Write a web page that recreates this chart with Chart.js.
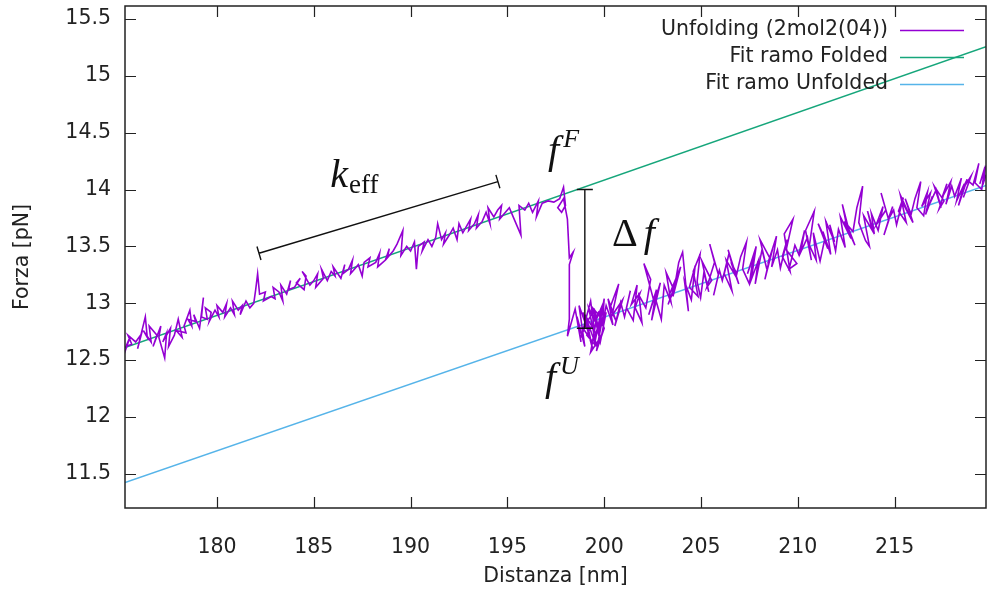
<!DOCTYPE html>
<html lang="it">
<head>
  <meta charset="UTF-8" />
  <title>Unfolding 2mol2(04)</title>
  <script src="https://cdn.jsdelivr.net/npm/chart.js"></script>
  <style>
    body {
      margin: 0;
      background: #fff;
    }
    #wrap {
      width: 987px;
      height: 592px;
    }
  </style>
</head>
<body>
  <div id="wrap"><canvas id="forceChart" width="987" height="592"></canvas></div>

  <script>
    // trace of the unfolding run: distance [nm] and force [pN]
    // folded branch, rip, relaxation cluster, unfolded branch
    const distanza = [
      175.2, 175.5, 175.3, 175.6, 175.4, 175.8, 176.1, 175.9, 176.3, 176.4,
      176.2, 176.6, 176.5, 176.9, 176.7, 177.1, 177.0, 177.3, 177.4, 177.2,
      177.6, 177.5, 177.8, 178.0, 178.2, 177.9, 178.4, 178.3, 178.6, 178.7,
      178.5, 178.9, 178.8, 179.1, 179.3, 179.2, 179.5, 179.4, 179.7, 179.6,
      179.9, 180.1, 180.0, 180.3, 180.5, 180.4, 180.7, 180.9, 180.8, 181.1,
      181.3, 181.2, 181.5, 181.7, 181.9, 182.0, 182.1, 182.2, 182.5, 182.4,
      182.8, 183.0, 182.9, 183.2, 183.4, 183.3, 183.6, 183.8, 183.7, 184.0,
      184.3, 184.1, 184.5, 184.6, 184.4, 184.8, 185.0, 185.2, 185.1, 185.5,
      185.4, 185.7, 185.9, 186.1, 186.0, 186.4, 186.6, 186.5, 186.8, 187.0,
      186.9, 187.3, 187.5, 187.6, 187.9, 187.8, 188.2, 188.4, 188.3, 188.7,
      188.9, 188.8, 189.1, 189.3, 189.6, 189.5, 189.8, 190.0, 190.2, 190.3,
      190.4, 190.7, 190.6, 190.9, 191.1, 191.3, 191.4, 191.6, 191.8, 191.7,
      192.0, 192.2, 192.4, 192.5, 192.7, 192.9, 193.1, 193.0, 193.3, 193.5,
      193.4, 193.7, 193.9, 194.1, 194.0, 194.3, 194.5, 194.7, 194.6, 194.9,
      195.1, 195.3, 195.7, 195.6, 195.9, 196.1, 196.3, 196.6, 196.5, 196.8,
      197.1, 197.4, 197.7, 197.9, 198.0, 197.8, 197.6, 197.9, 198.1, 198.2,
      198.4, 198.2, 198.2, 198.1,
      198.5, 198.8, 198.6, 199.0, 198.7, 199.2, 198.9, 199.4, 199.1, 198.8,
      199.3, 199.5, 199.0, 199.6, 199.2, 199.7, 199.4, 198.9, 199.5, 199.8,
      199.3, 199.6, 199.9, 199.5, 199.1, 199.7, 200.0, 199.6, 199.9, 199.4,
      199.8, 200.1, 199.7, 200.0, 199.9,
      200.1, 200.45, 200.2, 200.6, 200.3, 200.75, 200.4, 200.95, 200.55, 200.85,
      201.05, 201.35, 201.15, 201.5, 201.7, 201.4, 201.85, 201.6, 201.95, 201.8,
      202.15, 202.4, 202.05, 202.55, 202.3, 202.7, 202.45, 202.9, 202.65, 202.95,
      203.1, 203.45, 203.2, 203.6, 203.3, 203.75, 203.4, 203.95, 203.55, 203.85,
      204.05, 204.35, 204.15, 204.5, 204.7, 204.4, 204.85, 204.6, 204.95, 204.8, 204.98,
      205.15, 205.4, 205.05, 205.55, 205.3, 205.7, 205.45, 205.9, 205.65, 205.95,
      206.1, 206.45, 206.2, 206.6, 206.3, 206.75, 206.4, 206.95, 206.55, 206.85,
      207.05, 207.35, 207.15, 207.5, 207.7, 207.4, 207.85, 207.6, 207.95, 207.8,
      208.15, 208.4, 208.05, 208.55, 208.3, 208.7, 208.45, 208.9, 208.65, 208.95,
      209.1, 209.45, 209.2, 209.6, 209.3, 209.75, 209.4, 209.95, 209.55, 209.85,
      210.05, 210.35, 210.15, 210.5, 210.7, 210.4, 210.85, 210.6, 210.95, 210.8,
      211.15, 211.4, 211.05, 211.55, 211.3, 211.7, 211.45, 211.9, 211.65, 211.95,
      212.1, 212.45, 212.2, 212.6, 212.3, 212.75, 212.4, 212.95, 212.55, 212.85,
      213.05, 213.35, 213.15, 213.5, 213.7, 213.4, 213.85, 213.6, 213.95, 213.8,
      214.15, 214.4, 214.05, 214.55, 214.3, 214.7, 214.45, 214.9, 214.65, 214.95,
      215.1, 215.45, 215.2, 215.6, 215.3, 215.75, 215.4, 215.95, 215.55, 215.85,
      216.05, 216.35, 216.15, 216.5, 216.7, 216.4, 216.85, 216.6, 216.95, 216.8,
      217.15, 217.4, 217.05, 217.55, 217.3, 217.7, 217.45, 217.9, 217.65, 217.95,
      218.1, 218.45, 218.2, 218.6, 218.3, 218.75, 218.4, 218.95, 218.55, 218.85,
      219.05, 219.35, 219.15, 219.5, 219.65, 219.4, 219.7, 219.55, 219.72
    ];
    const forza = [
      12.55, 12.70, 12.62, 12.64, 12.72, 12.66, 12.73, 12.60, 12.88, 12.70,
      12.76, 12.66, 12.80, 12.72, 12.62, 12.80, 12.70, 12.52, 12.74, 12.66,
      12.78, 12.62, 12.72, 12.86, 12.70, 12.76, 12.74, 12.80, 12.94, 12.80,
      12.86, 12.84, 12.90, 12.78, 13.05, 12.88, 12.86, 12.96, 12.92, 12.84,
      12.94, 12.88, 12.98, 12.92, 13.00, 12.88, 12.96, 12.90, 13.02, 12.94,
      12.98, 12.90, 13.02, 12.96, 13.00, 13.12, 13.26, 13.08, 13.10, 13.02,
      13.06, 13.04, 13.14, 13.10, 13.02, 13.16, 13.08, 13.20, 13.12, 13.14,
      13.22, 13.18, 13.12, 13.24, 13.28, 13.16, 13.20, 13.26, 13.14, 13.22,
      13.30, 13.20, 13.28, 13.24, 13.32, 13.22, 13.34, 13.26, 13.30, 13.38,
      13.26, 13.34, 13.24, 13.36, 13.40, 13.32, 13.36, 13.44, 13.32, 13.38,
      13.48, 13.40, 13.46, 13.52, 13.64, 13.42, 13.50, 13.46, 13.54, 13.30,
      13.50, 13.54, 13.46, 13.56, 13.50, 13.58, 13.70, 13.56, 13.62, 13.52,
      13.60, 13.66, 13.56, 13.70, 13.62, 13.68, 13.74, 13.64, 13.70, 13.78,
      13.66, 13.72, 13.80, 13.70, 13.84, 13.76, 13.82, 13.86, 13.74, 13.80,
      13.84, 13.76, 13.60, 13.86, 13.82, 13.88, 13.80, 13.90, 13.76, 13.88,
      13.90, 13.89, 13.92, 14.02, 13.86, 13.80, 13.84, 13.92, 13.74, 13.40,
      13.45, 13.34, 12.86, 12.71,
      12.95, 12.66, 12.88, 12.62, 12.98, 12.74, 12.92, 12.60, 12.84, 12.70,
      13.02, 12.76, 12.90, 12.62, 12.96, 12.80, 12.66, 12.78, 12.94, 12.70,
      12.57, 12.86, 12.98, 12.64, 12.72, 12.92, 12.78, 12.58, 12.86, 12.96,
      12.66, 12.92, 12.74, 13.04, 12.80,
      12.98, 12.81, 13.04, 12.85, 12.96, 13.17, 12.89, 13.03, 12.80, 13.01,
      12.88, 13.11, 12.96, 12.85, 13.16, 12.99, 13.09, 12.96, 12.83, 13.07,
      12.96, 13.21, 13.35, 13.03, 12.90, 13.12, 12.85, 13.18, 13.04, 12.86,
      13.16, 13.01, 13.27, 13.12, 12.99, 13.20, 13.09, 13.32, 13.06, 13.36,
      13.45, 12.93, 13.19, 13.03, 13.33, 13.14, 13.06, 13.28, 13.43, 13.19, 13.05,
      13.27, 13.10, 13.37, 13.20, 13.14, 13.36, 13.52, 13.25, 13.07, 13.29,
      13.20, 13.44, 13.26, 13.11, 13.38, 13.25, 13.47, 13.17, 13.36, 13.26,
      13.41, 13.54, 13.30, 13.17, 13.41, 13.26, 13.50, 13.21, 13.37, 13.17,
      13.47, 13.30, 13.56, 13.40, 13.21, 13.48, 13.35, 13.59, 13.32, 13.47,
      13.31, 13.56, 13.41, 13.28, 13.61, 13.74, 13.47, 13.35, 13.30, 13.51,
      13.43, 13.64, 13.45, 13.58, 13.38, 13.64, 13.81, 13.51, 13.38, 13.62,
      13.37, 13.57, 13.70, 13.48, 13.63, 13.43, 13.72, 13.54, 13.69, 13.46,
      13.65, 13.49, 13.76, 13.62, 13.87, 13.57, 13.72, 13.51, 13.69, 13.63,
      13.84, 14.03, 13.71, 13.55, 13.50, 13.77, 13.64, 13.81, 13.61, 13.79,
      13.64, 13.85, 13.69, 13.82, 13.97, 13.73, 13.60, 13.85, 13.73, 13.82,
      13.69, 13.93, 13.81, 13.71, 13.95, 13.78, 13.89, 13.71, 13.92, 13.78,
      13.92, 14.07, 13.84, 13.77, 13.98, 13.85, 13.97, 13.78, 13.94, 13.87,
      14.00, 13.84, 14.03, 13.90, 13.83, 14.05, 13.93, 14.07, 13.87, 14.03,
      13.94, 14.10, 13.90, 14.05, 13.86, 14.09, 13.97, 14.12, 13.93, 14.07,
      14.04, 14.23, 14.06, 14.00, 14.19, 14.05, 14.21, 14.04, 14.13
    ];

    // linear fits of the two branches, end points across the x range
    const fitFolded = [[175.25, 12.61], [219.72, 15.257]];
    const fitUnfolded = [[175.25, 11.424], [219.72, 14.035]];

    const xTicks = [180, 185, 190, 195, 200, 205, 210, 215];
    const yTicks = [11.5, 12, 12.5, 13, 13.5, 14, 14.5, 15, 15.5];
    const xRange = [175.25, 219.72];
    const yRange = [11.2, 15.614];

    // annotation bars (data units)
    const keffBar = [[182.17, 13.44], [194.51, 14.07]];
    const deltaBar = [[199.0, 14.0], [199.0, 12.78]];
    // text anchors: left / baseline
    const kLabelAt = [185.85, 14.02];
    const fFLabelAt = [197.1, 14.235];
    const fULabelAt = [196.94, 12.24];
    const dfLabelAt = [200.4, 13.5];

    const seriesNames = ["Unfolding (2mol2(04))", "Fit ramo Folded", "Fit ramo Unfolded"];
    const seriesColors = ["#9400d3", "#16a67b", "#56b4e9"];

    const sans = '"DejaVu Sans", sans-serif';
    const serif = '"Liberation Serif", "DejaVu Serif", serif';
    const fontSize = 20.5;

    const toXY = pts => pts.map(p => ({ x: p[0], y: p[1] }));

    // gnuplot-like frame: full border with inward ticks on all four sides
    const framePlugin = {
      id: "frame",
      afterDatasetsDraw(chart) {
        const { ctx, chartArea: a, scales: { x, y } } = chart;
        ctx.save();
        ctx.strokeStyle = "#222";
        ctx.lineWidth = 1.5;
        ctx.strokeRect(a.left, a.top, a.right - a.left, a.bottom - a.top);
        ctx.lineWidth = 1.2;
        ctx.beginPath();
        xTicks.forEach(v => {
          const px = Math.round(x.getPixelForValue(v)) + 0.5;
          ctx.moveTo(px, a.bottom); ctx.lineTo(px, a.bottom - 11);
          ctx.moveTo(px, a.top); ctx.lineTo(px, a.top + 11);
        });
        yTicks.forEach(v => {
          const py = Math.round(y.getPixelForValue(v)) + 0.5;
          ctx.moveTo(a.left, py); ctx.lineTo(a.left + 11, py);
          ctx.moveTo(a.right, py); ctx.lineTo(a.right - 11, py);
        });
        ctx.stroke();
        ctx.restore();
      }
    };

    // key in the top right corner: right-aligned text, sample line after it
    const keyPlugin = {
      id: "key",
      afterDraw(chart) {
        const { ctx } = chart;
        ctx.save();
        ctx.font = fontSize + "px " + sans;
        ctx.textAlign = "right";
        ctx.textBaseline = "middle";
        seriesNames.forEach((name, i) => {
          const yy = 30 + i * 27;
          ctx.fillStyle = "#222";
          ctx.fillText(name, 888, yy);
          ctx.strokeStyle = seriesColors[i];
          ctx.lineWidth = 1.5;
          ctx.beginPath();
          ctx.moveTo(900, yy + 0.5);
          ctx.lineTo(964, yy + 0.5);
          ctx.stroke();
        });
        ctx.restore();
      }
    };

    // k_eff and delta f markers with their labels
    const notesPlugin = {
      id: "notes",
      afterDraw(chart) {
        const { ctx, scales: { x, y } } = chart;
        const P = p => [x.getPixelForValue(p[0]), y.getPixelForValue(p[1])];
        ctx.save();
        ctx.strokeStyle = "#111";
        ctx.lineWidth = 1.4;

        // k_eff bar with perpendicular end caps
        const [a0, a1] = [P(keffBar[0]), P(keffBar[1])];
        const dx = a1[0] - a0[0], dy = a1[1] - a0[1];
        const len = Math.hypot(dx, dy);
        const nx = -dy / len * 7, ny = dx / len * 7;
        ctx.beginPath();
        ctx.moveTo(a0[0], a0[1]); ctx.lineTo(a1[0], a1[1]);
        [a0, a1].forEach(p => {
          ctx.moveTo(p[0] - nx, p[1] - ny);
          ctx.lineTo(p[0] + nx, p[1] + ny);
        });
        ctx.stroke();

        // delta f bar with horizontal caps
        const [b0, b1] = [P(deltaBar[0]), P(deltaBar[1])];
        ctx.beginPath();
        ctx.moveTo(b0[0], b0[1]); ctx.lineTo(b1[0], b1[1]);
        ctx.moveTo(b0[0] - 8, b0[1]); ctx.lineTo(b0[0] + 8, b0[1]);
        ctx.moveTo(b1[0] - 8, b1[1]); ctx.lineTo(b1[0] + 8, b1[1]);
        ctx.stroke();

        ctx.fillStyle = "#111";
        ctx.textAlign = "left";
        ctx.textBaseline = "alphabetic";

        // k_eff
        let p = P(kLabelAt);
        ctx.font = "italic 40px " + serif;
        ctx.fillText("k", p[0], p[1]);
        const kw = ctx.measureText("k").width;
        ctx.font = "27px " + serif;
        ctx.fillText("eff", p[0] + kw + 1, p[1] + 6);

        // f^F and f^U
        [[fFLabelAt, "F"], [fULabelAt, "U"]].forEach(([at, sup]) => {
          const q = P(at);
          ctx.font = "italic 40px " + serif;
          ctx.fillText("f", q[0], q[1]);
          const fw = ctx.measureText("f").width;
          ctx.font = "italic 26px " + serif;
          ctx.fillText(sup, q[0] + fw + 4, q[1] - 16);
        });

        // delta f
        p = P(dfLabelAt);
        ctx.font = "40px " + serif;
        ctx.fillText("\u0394", p[0], p[1]);
        const dw = ctx.measureText("\u0394").width;
        ctx.font = "italic 40px " + serif;
        ctx.fillText("f", p[0] + dw + 6, p[1]);
        ctx.restore();
      }
    };

    const ctx = document.getElementById("forceChart").getContext("2d");
    new Chart(ctx, {
      type: "scatter",
      data: {
        datasets: [
          {
            label: seriesNames[0],
            data: distanza.map((d, i) => ({ x: d, y: forza[i] })),
            showLine: true,
            borderColor: seriesColors[0],
            borderWidth: 1.6,
            pointRadius: 0,
            tension: 0
          },
          {
            label: seriesNames[1],
            data: toXY(fitFolded),
            showLine: true,
            borderColor: seriesColors[1],
            borderWidth: 1.5,
            pointRadius: 0
          },
          {
            label: seriesNames[2],
            data: toXY(fitUnfolded),
            showLine: true,
            borderColor: seriesColors[2],
            borderWidth: 1.5,
            pointRadius: 0
          }
        ]
      },
      options: {
        responsive: false,
        animation: false,
        layout: { padding: { top: 6, right: 1, left: 0, bottom: 0 } },
        plugins: {
          legend: { display: false },
          tooltip: { enabled: false }
        },
        scales: {
          x: {
            type: "linear",
            min: xRange[0],
            max: xRange[1],
            grid: { display: false },
            border: { display: false },
            afterBuildTicks: s => { s.ticks = xTicks.map(v => ({ value: v })); },
            afterFit: s => { s.height = 84; s.paddingLeft = 0; s.paddingRight = 0; },
            ticks: {
              padding: 19,
              color: "#222",
              font: { family: sans, size: fontSize },
              callback: v => String(v)
            },
            title: {
              display: true,
              text: "Distanza [nm]",
              color: "#222",
              font: { family: sans, size: fontSize },
              padding: { bottom: 3 }
            }
          },
          y: {
            type: "linear",
            min: yRange[0],
            max: yRange[1],
            grid: { display: false },
            border: { display: false },
            afterBuildTicks: s => { s.ticks = yTicks.map(v => ({ value: v })); },
            afterFit: s => { s.width = 125; s.paddingTop = 0; s.paddingBottom = 0; },
            ticks: {
              padding: 6,
              color: "#222",
              font: { family: sans, size: fontSize },
              callback: v => String(v)
            },
            title: {
              display: true,
              text: "Forza [pN]",
              color: "#222",
              font: { family: sans, size: fontSize },
              padding: { top: 10 }
            }
          }
        }
      },
      plugins: [framePlugin, keyPlugin, notesPlugin]
    });
  </script>
</body>
</html>
